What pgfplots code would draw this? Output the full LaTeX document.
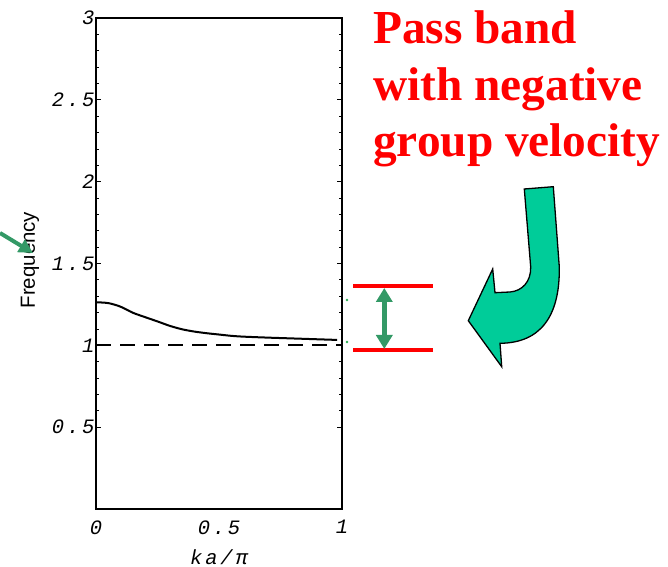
\documentclass[border=0pt]{standalone}
\usepackage{fontspec}
\setmainfont{Liberation Serif}
\newfontfamily\tickfont[LetterSpace=14]{Liberation Mono}
\newfontfamily\labfont{Liberation Sans}
\usepackage{pgfplots}
\pgfplotsset{compat=1.18}
\usetikzlibrary{arrows.meta}
\definecolor{passred}{HTML}{FF0000}
\definecolor{teal2}{HTML}{00CC99}
\definecolor{darkgr}{HTML}{339966}
\begin{document}
\begin{tikzpicture}[x=1bp,y=1bp]
\path[use as bounding box] (0,0) rectangle (668,567);
\begin{axis}[
  at={(96bp,58bp)}, anchor=south west,
  width=246bp, height=491bp, scale only axis,
  xmin=0, xmax=1, ymin=0, ymax=3,
  xtick={0,0.5,1}, xticklabels={0,0.5,1},
  ytick={0.5,1,1.5,2,2.5,3}, yticklabels={0.5,1,1.5,2,2.5,3},
  minor y tick num=4,
  xtick style={draw=none},
  ytick pos=both,
  tick align=inside,
  major tick length=5bp, minor tick length=3bp,
  y tick style={line width=0.8bp, black},
  axis line style={line width=1.6bp},
  /pgf/number format/assume math mode=true,
  tick label style={font=\tickfont\itshape\fontsize{20.5}{20.5}\selectfont, text=black},
  every x tick label/.append style={yshift=-8bp},
  every y tick label/.append style={xshift=2bp},
  xlabel={ka/π},
  xlabel style={font=\tickfont\itshape\fontsize{20.5}{20.5}\selectfont, text=black, at={(axis description cs:0.5,0)}, anchor=north, yshift=-37bp},
  ylabel={Frequency},
  every axis y label/.style={at={(axis description cs:-0.268,0.507)}, rotate=90, anchor=center, font=\labfont\fontsize{20.5}{20.5}\selectfont},
]
\addplot[black, line width=2bp, smooth] coordinates {
(0,1.263) (0.05,1.258) (0.10,1.236) (0.15,1.199) (0.20,1.172) (0.25,1.146) (0.30,1.119)
(0.35,1.098) (0.40,1.084) (0.45,1.074) (0.50,1.066) (0.55,1.058) (0.60,1.053)
(0.70,1.047) (0.80,1.042) (0.90,1.037) (0.98,1.033)};
\addplot[black, line width=2bp, dash pattern=on 15bp off 9bp] coordinates {(0,1) (1,1)};
\end{axis}
% red band lines
\draw[passred, line width=4.5bp] (353,281) -- (433,281);
\draw[passred, line width=4.5bp] (353,217) -- (433,217);
% green double arrow
\draw[darkgr, line width=5bp, {Triangle[width=16bp,length=14bp]}-{Triangle[width=16bp,length=14bp]}] (384.3,279) -- (384.3,218);
% green dots
\fill[darkgr!80!green] (347,267) circle (1.3);
\fill[darkgr!80!green] (347,225) circle (1.3);
% left green arrow
\draw[darkgr, line width=4bp, -{Triangle[width=14bp,length=14bp]}] (0,334) -- (33,314);
% curved arrow
\draw[black, line width=1.3bp, fill=teal2] (524.3,378) -- (553.3,380.3) -- (559.3,300)
  .. controls (560,250) and (540,224) .. (500,223.7) -- (501.7,200.3) -- (468.3,246.3)
  -- (492.7,298) -- (495,274.3) -- (510,275) .. controls (522,276) and (531,285) .. (530.7,300) -- cycle;
% red text
\begin{scope}[every node/.style={anchor=base west, inner sep=0pt, text=passred, font=\bfseries\fontsize{47.5}{47.5}\selectfont}]
\node at (373,523.7) {Pass band};
\node at (373,466.3) {with negative};
\node at (373,410.3) {group velocity};
\end{scope}
\end{tikzpicture}
\end{document}
